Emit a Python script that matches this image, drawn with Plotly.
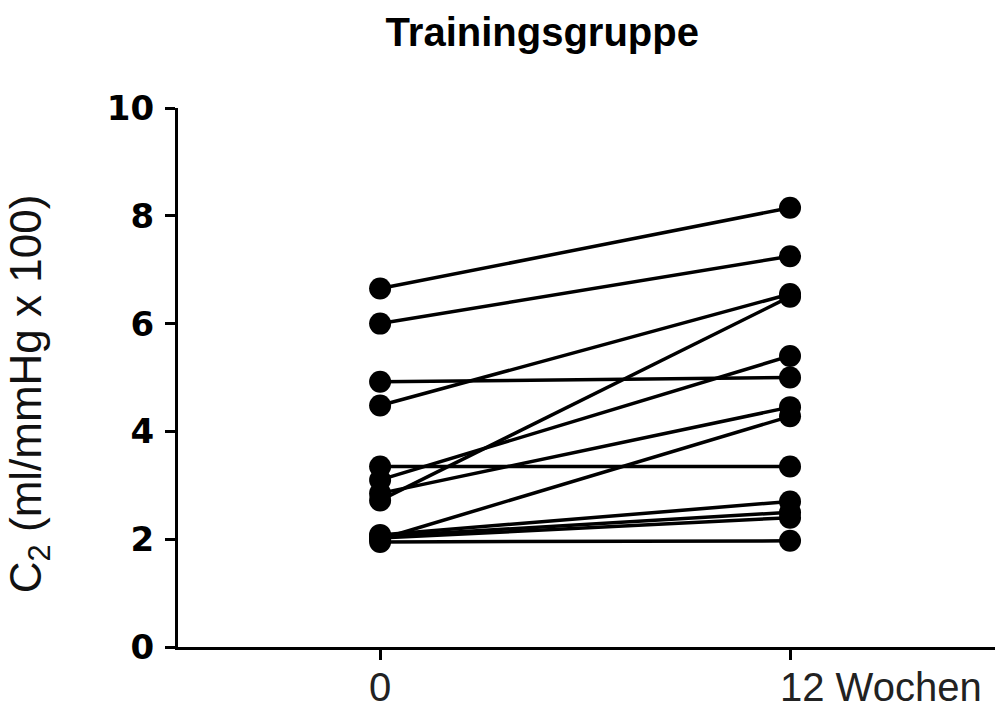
import plotly.graph_objects as go

# Data
timepoints = [0, 1]
x_tick_labels = ["0", "12 Wochen"]
week0 = [6.65, 6.0, 4.92, 4.48, 2.72, 3.10, 3.35, 2.85, 2.00, 2.08, 2.05, 2.02, 1.95]
week12 = [8.15, 7.25, 5.00, 6.55, 6.50, 5.40, 3.35, 4.45, 4.28, 2.70, 2.50, 2.40, 1.97]
y_ticks = [0, 2, 4, 6, 8, 10]
title_text = "Trainingsgruppe"
y_title = "C<sub>2</sub> (ml/mmHg x 100)"

fig = go.Figure()
for a, b in zip(week0, week12):
    fig.add_trace(go.Scatter(
        x=timepoints, y=[a, b], mode="lines+markers",
        line=dict(color="black", width=3.5),
        marker=dict(color="black", size=22),
        showlegend=False, hoverinfo="skip", cliponaxis=False,
    ))

# x tick labels as annotations (the second label is left-offset in the original)
for i, (xv, txt) in enumerate(zip(timepoints, x_tick_labels)):
    fig.add_annotation(
        x=xv, y=0, xref="x", yref="paper",
        text=txt, showarrow=False,
        xanchor="center" if i == 0 else "left",
        xshift=0 if i == 0 else -12,
        yanchor="top", yshift=-16,
        font=dict(family="Liberation Sans", size=40, color="#222"),
    )

fig.add_annotation(
    x=-0.183, y=0.47, xref="paper", yref="paper",
    text=y_title, textangle=-90, showarrow=False,
    xanchor="center", yanchor="middle",
    font=dict(family="Liberation Sans", size=44, color="#111"),
)

fig.update_layout(
    width=995, height=720,
    margin=dict(l=178, r=0, t=108, b=73),
    paper_bgcolor="white", plot_bgcolor="white",
    title=dict(text="<b>" + title_text + "</b>", x=0.545, xanchor="center",
               y=0.955, yanchor="middle",
               font=dict(family="Liberation Sans", size=40, color="black")),
    xaxis=dict(range=[-0.493, 1.5], tickvals=timepoints, showticklabels=False,
               ticks="outside", ticklen=10, tickwidth=3, tickcolor="black",
               showline=True, linewidth=3, linecolor="black",
               showgrid=False, zeroline=False, fixedrange=True),
    yaxis=dict(range=[0, 10], tickvals=y_ticks,
               ticks="outside", ticklen=10, tickwidth=3, tickcolor="black",
               showline=True, linewidth=3, linecolor="black",
               showgrid=False, zeroline=False,
               tickfont=dict(family="DejaVu Sans", size=34, color="black", weight="bold"),
               ticklabelstandoff=4),
)

fig.write_html("out.html")
